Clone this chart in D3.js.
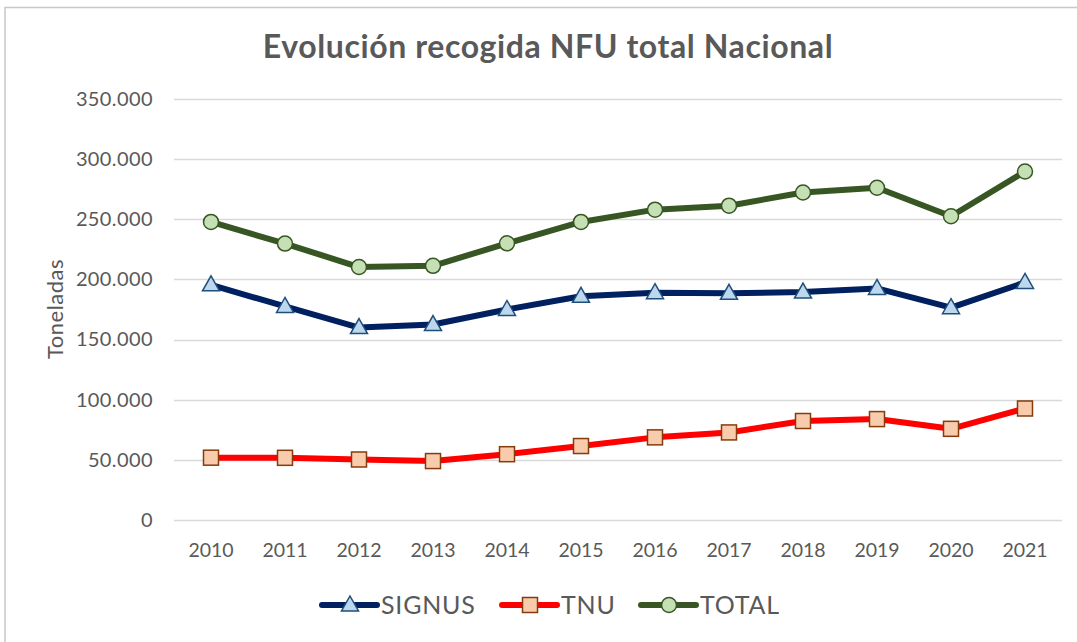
<!DOCTYPE html>
<html><head><meta charset="utf-8">
<script src="https://cdn.jsdelivr.net/npm/d3@7"></script>
<style>body{margin:0;background:#fff}svg{display:block}text{font-family:Lato,"Open Sans",sans-serif}</style>
</head><body><svg id="c" width="1077" height="642"></svg>
<script>
const years = ["2010","2011","2012","2013","2014","2015","2016","2017","2018","2019","2020","2021"];
const signus = [195500,177500,160000,162500,175000,186000,189000,188500,189500,192500,176500,197500];
const tnu = [51800,51700,50300,49000,54700,61500,68700,72800,82300,83900,75800,92700];
const total = [247800,229800,210300,211300,230000,247800,258000,261300,272300,276200,252500,289700];
const yTicks = [0,50000,100000,150000,200000,250000,300000,350000];
const seriesNames = ["SIGNUS","TNU","TOTAL"];

const svg = d3.select("#c");
svg.append("rect").attr("x",5).attr("y",7.5).attr("width",1085).attr("height",650)
  .attr("fill","#fff").attr("stroke","#c8c8c8").attr("stroke-width",1.5);

const x = d3.scaleBand().domain(years).range([174,1062]);
const y = d3.scaleLinear().domain([0,350000]).range([520,99]);
const fmt = v => v===0 ? "0" : d3.format(",")(v).replace(/,/g,".");

svg.append("g").selectAll("line").data(yTicks).join("line")
  .attr("x1",174).attr("x2",1062).attr("y1",d=>Math.round(y(d))+0.5).attr("y2",d=>Math.round(y(d))+0.5)
  .attr("stroke","#d9d9d9").attr("stroke-width",1.5);

const ya = svg.append("g").attr("transform","translate(153,0)")
  .call(d3.axisLeft(y).tickValues(yTicks).tickFormat(fmt).tickSize(0).tickPadding(0));
ya.select(".domain").remove();
ya.selectAll("text").attr("font-size",20).attr("letter-spacing",0.4).attr("fill","#595959").attr("font-family","Lato, sans-serif");

const xa = svg.append("g").attr("transform","translate(0,540)")
  .call(d3.axisBottom(x).tickSize(0).tickPadding(3));
xa.select(".domain").remove();
xa.selectAll("text").attr("font-size",19.5).attr("fill","#595959").attr("font-family","Lato, sans-serif");

svg.append("text").attr("x",548).attr("y",58).attr("text-anchor","middle")
  .attr("font-size",32).attr("font-weight","bold").attr("letter-spacing",0.6).attr("fill","#595959")
  .text("Evolución recogida NFU total Nacional");
svg.append("text").attr("transform","translate(63,309) rotate(-90)").attr("text-anchor","middle")
  .attr("font-size",22).attr("letter-spacing",0.5).attr("fill","#595959").text("Toneladas");

const styles = {
  SIGNUS:{data:signus,line:"#002060",fill:"#BDD7EE",stroke:"#1F4E79",shape:"tri"},
  TNU:{data:tnu,line:"#FF0000",fill:"#F8CBAD",stroke:"#843C0C",shape:"sq"},
  TOTAL:{data:total,line:"#375623",fill:"#C5E0B4",stroke:"#375623",shape:"circ"}
};
function marker(g, shape, s){
  if(shape==="tri") g.append("path").attr("d","M0,-9 L8.5,6 L-8.5,6 Z").attr("fill",s.fill).attr("stroke",s.stroke).attr("stroke-width",1.5);
  else if(shape==="sq") g.append("rect").attr("x",-7.5).attr("y",-7.5).attr("width",15).attr("height",15).attr("fill",s.fill).attr("stroke",s.stroke).attr("stroke-width",1.5);
  else g.append("circle").attr("r",7.5).attr("fill",s.fill).attr("stroke",s.stroke).attr("stroke-width",1.5);
}
const cx = d => x(d)+x.bandwidth()/2;
for(const name of ["TOTAL","SIGNUS","TNU"]){
  const s = styles[name];
  const line = d3.line().x((d,i)=>cx(years[i])).y(d=>y(d));
  svg.append("path").datum(s.data).attr("d",line).attr("fill","none").attr("stroke",s.line)
    .attr("stroke-width",6).attr("stroke-linejoin","round").attr("stroke-linecap","round");
  s.data.forEach((v,i)=>{
    const g = svg.append("g").attr("transform",`translate(${cx(years[i])},${y(v)})`);
    marker(g,s.shape,s);
  });
}

const legX = {SIGNUS:322, TNU:502, TOTAL:641};
seriesNames.forEach(n=>{
  const s = styles[n], lx = legX[n], ly = 605;
  svg.append("line").attr("x1",lx).attr("x2",lx+55).attr("y1",ly).attr("y2",ly)
    .attr("stroke",s.line).attr("stroke-width",6).attr("stroke-linecap","round");
  marker(svg.append("g").attr("transform",`translate(${lx+28},${ly})`), s.shape, s);
  svg.append("text").attr("x",lx+59).attr("y",ly+9).attr("font-size",25).attr("letter-spacing",0.8).attr("fill","#595959").text(n);
});
</script></body></html>
